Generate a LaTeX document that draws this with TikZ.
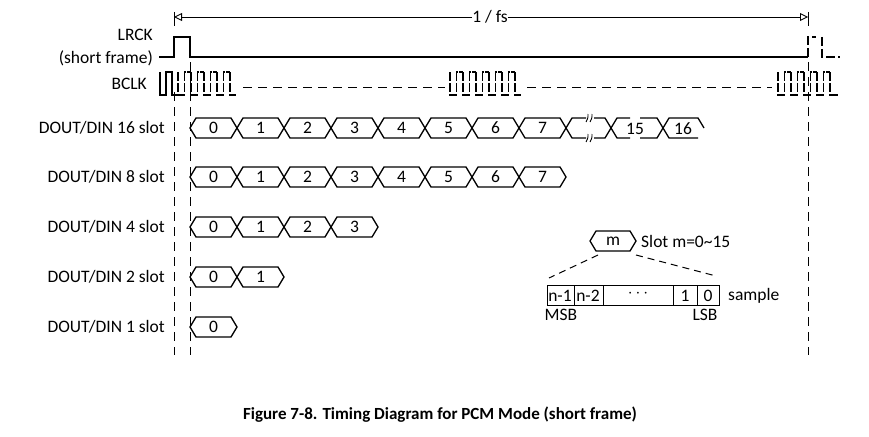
\documentclass[tikz,border=0pt]{standalone}
\usepackage{fontspec}
\setmainfont{Carlito}
\usetikzlibrary{arrows.meta}
\begin{document}
\begin{tikzpicture}[x=1pt,y=-1pt,
  sig/.style={line width=1.3pt},
  wave/.style={line width=1.2pt,dash pattern=on 9pt off 2pt},
  guide/.style={dashed,line width=1pt,dash pattern=on 9pt off 6pt},
  lbl/.style={font=\fontsize{17.5}{19}\selectfont,anchor=east,inner sep=0},
  slt/.style={font=\fontsize{17.5}{19}\selectfont,inner sep=0}]
\useasboundingbox (0,0) rectangle (869,436);
\newcommand{\slotbox}[4]{% x1,x2,y,text
  \draw[sig] (#1,#3)--(#1+6,#3-10)--(#2-6,#3-10)--(#2,#3)--(#2-6,#3+10)--(#1+6,#3+10)--cycle;
  \node[slt] at ({(#1+#2)/2},#3) {#4};}
\newcommand{\bclk}[2]{% x start, n periods
  \foreach \k in {1,...,#2}{\draw[wave] ({#1+(\k-1)*13},72)--({#1+(\k-1)*13},95)--({#1+(\k-1)*13+6.5},95)--({#1+(\k-1)*13+6.5},72)--({#1+\k*13},72);}}
\newcommand{\brk}[2]{\draw[line width=0.9pt] (#1-4,#2+4) .. controls (#1-2,#2) .. (#1-2,#2-4) (#1,#2+4) .. controls (#1+2,#2) .. (#1+2,#2-4);}
% top arrow
\coordinate (tl) at (174,17); \coordinate (tr) at (808,17);
\draw[line width=0.9pt] (174,12)--(174,26) (808,12)--(808,26);
\node[slt] (fs) at (490,17) {1 / fs};
\draw[line width=0.9pt,-{Triangle[open,length=8pt,width=8pt]}] (fs.west)--(tl);
\draw[line width=0.9pt,-{Triangle[open,length=8pt,width=8pt]}] (fs.east)--(tr);
% labels
\node[lbl] at (153,35) {LRCK};
\node[lbl] at (153,58) {(short frame)};
\node[lbl] at (147,84) {BCLK};
\node[lbl] at (165,128) {DOUT/DIN 16 slot};
\node[lbl] at (165,177) {DOUT/DIN 8 slot};
\node[lbl] at (165,227) {DOUT/DIN 4 slot};
\node[lbl] at (165,277) {DOUT/DIN 2 slot};
\node[lbl] at (165,327) {DOUT/DIN 1 slot};
% LRCK
\draw[sig] (159,57)--(174,57)--(174,37)--(190,37)--(190,57)--(808,57);
\draw[sig,dash pattern=on 9pt off 3pt] (808,57)--(808,37)--(816,37) (822,37)--(822,57)--(840,57);
% BCLK
\draw[sig] (160,72)--(160,95)--(166,95)--(166,72)--(172,72)--(172,95)--(178,95);
\bclk{178}{4}
\draw[wave] (230,72)--(230,95)--(236,95);
\draw[guide] (243,87)--(445,87);
\bclk{450}{5}
\draw[wave] (515,72)--(515,95)--(521,95);
\draw[guide] (527,87)--(772,87);
\bclk{778}{4}
\draw[wave] (830,72)--(830,95)--(838,95);
% guides
\draw[guide] (174,92)--(174,355);
\draw[guide] (190,62)--(190,355);
\draw[guide] (808,62)--(808,355);
% slots
\foreach \n in {0,...,7}{\slotbox{190+\n*47}{237+\n*47}{128}{\n}}
\foreach \n in {0,...,7}{\slotbox{190+\n*47}{237+\n*47}{177}{\n}}
\foreach \n in {0,...,3}{\slotbox{190+\n*47}{237+\n*47}{227}{\n}}
\foreach \n in {0,...,1}{\slotbox{190+\n*47}{237+\n*47}{277}{\n}}
\slotbox{190}{237}{327}{0}
% 16-slot tail
\draw[sig] (566,128)--(572,118)--(586,118) (594,118)--(605,118)--(611,128)--(617,118)--(630,118) (640,118)--(657,118)--(663,128)--(669,118)--(698,118)--(704,128);
\draw[sig] (566,128)--(572,138)--(586,138) (594,138)--(605,138)--(611,128)--(617,138)--(630,138) (640,138)--(657,138)--(663,128)--(669,138)--(698,138);
\brk{590}{118}
\brk{590}{138}
\node[slt] at (635,129) {15};
\node[slt] at (683,129) {16};
% slot m
\slotbox{590}{636}{241}{m}
\node[slt,anchor=west] at (641,241) {Slot m=0\textasciitilde15};
\draw[guide,dash pattern=on 7pt off 5pt] (598,255)--(549,278) (636,255)--(716,276);
\draw[line width=1pt] (547,285) rectangle (719,305);
\draw[line width=1pt] (574,285)--(574,305) (603,285)--(603,305) (673,285)--(673,305) (697,285)--(697,305);
\node[slt] at (560,296) {n-1};
\node[slt] at (588,296) {n-2};
\node[slt] at (638,294) {$\cdots$};
\node[slt] at (685,296) {1};
\node[slt] at (708,296) {0};
\node[slt,anchor=west] at (728,296) {sample};
\node[slt] at (561,315) {MSB};
\node[slt] at (705,315) {LSB};
% caption
\node[font=\bfseries\fontsize{17}{19}\selectfont,inner sep=0] at (440,415) {Figure 7-8. Timing Diagram for PCM Mode (short frame)};
\end{tikzpicture}
\end{document}
